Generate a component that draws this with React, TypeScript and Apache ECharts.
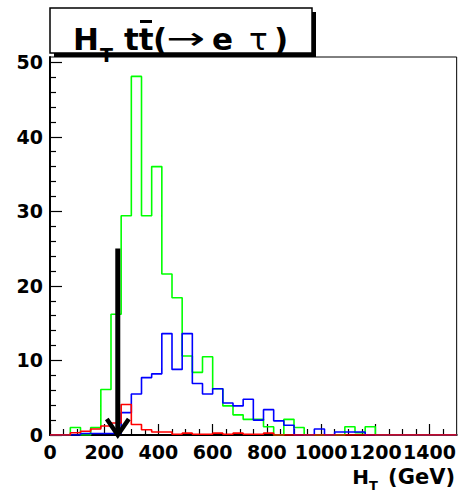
import React, { useEffect, useRef } from "react";
import * as echarts from "echarts";

// Histogram binning (GeV)
const HT_MIN = 0;
const HT_MAX = 1500;
const BIN_WIDTH = 37.5;

// Bin contents (40 bins of 37.5 GeV)
const greenCounts = [0, 0, 1.0, 0, 1.0, 6.1, 16.2, 29.4, 48.1, 29.4, 36.0, 21.6, 18.4, 10.6, 8.4, 10.5, 6.2, 3.9, 2.7, 2.1, 2.1, 1.1, 0, 2.1, 1.0, 0, 0, 0, 0, 1.1, 0.3, 1.1, 0, 0, 0, 0, 0, 0, 0, 0];
const blueCounts = [0, 0, 0, 0.2, 0.2, 0.2, 0.2, 3.0, 5.5, 7.7, 8.2, 13.6, 8.8, 13.6, 6.9, 5.5, 6.2, 4.3, 3.9, 4.8, 2.0, 3.4, 1.9, 1.3, 0, 0, 0.8, 0, 0.4, 0.4, 0.4, 0, 0, 0, 0, 0, 0, 0, 0, 0];
const redCounts = [0, 0, 0.3, 0.5, 0.8, 1.2, 1.6, 4.1, 1.4, 0.7, 0.4, 0.4, 0.1, 0.25, 0.1, 0.1, 0.25, 0.1, 0.25, 0.1, 0.1, 0.25, 0, 0, 0, 0, 0, 0, 0, 0, 0, 0, 0, 0, 0, 0, 0, 0, 0, 0];

// Axis ticks
const xMajorTicks = [0, 200, 400, 600, 800, 1000, 1200, 1400];
const xMinorStep = 50;
const yMajorTicks = [0, 10, 20, 30, 40, 50];
const yMinorStep = 2;
const Y_MAX = 50.7;

// Cut arrow
const cutArrow = [[250, 25, 0]];

const FONT = "DejaVu Sans";

function histPoints(counts: number[]) {
  const pts = counts.map((v, i) => [HT_MIN + i * BIN_WIDTH, v]);
  pts.push([HT_MIN + counts.length * BIN_WIDTH, counts[counts.length - 1]]);
  return pts;
}

function minorTicks(max: number, step: number, majors: number[]) {
  const out: number[] = [];
  for (let v = 0; v < max; v += step) {
    if (!majors.some((m) => Math.abs(m - v) < 1e-6)) out.push(v);
  }
  return out;
}

export default function App() {
  const ref = useRef<HTMLDivElement>(null);
  useEffect(() => {
    if (!ref.current) return;
    const chart = echarts.init(ref.current, undefined, { renderer: "svg" });
    const xMinor = minorTicks(HT_MAX, xMinorStep, xMajorTicks);
    const yMinor = minorTicks(Y_MAX, yMinorStep, yMajorTicks);
    const labelStyle = {
      fontFamily: FONT,
      fontWeight: "bold" as const,
      fontSize: 19,
      color: "#000",
      showMinLabel: true,
      showMaxLabel: true,
      hideOverlap: false,
      formatter: (v: number) => String(v),
    };
    const histSeries = (name: string, counts: number[], color: string) => ({
      name,
      type: "line" as const,
      step: "end" as const,
      data: histPoints(counts),
      showSymbol: false,
      symbol: "none",
      lineStyle: { color, width: 1.6 },
      xAxisIndex: 0,
      yAxisIndex: 0,
    });
    const txt = (text: string, x: number, y: number, size: number, bold: boolean, align = "left", extra: any = {}) => ({
      type: "text",
      z: 102,
      x,
      y,
      ...extra,
      style: {
        text,
        fontFamily: FONT,
        fontWeight: bold ? "bold" : "normal",
        fontSize: size,
        fill: "#000",
        align,
        verticalAlign: "middle",
      },
    });
    chart.setOption({
      animation: false,
      backgroundColor: "#fff",
      grid: {
        left: 50,
        right: 2,
        top: 57,
        bottom: 56,
        show: true,
        borderColor: "#000",
        borderWidth: 1,
        backgroundColor: "transparent",
      },
      xAxis: [
        {
          type: "value",
          min: HT_MIN,
          max: HT_MAX,
          position: "bottom",
          axisLine: { show: true, lineStyle: { color: "#000", width: 2 } },
          axisTick: { show: true, inside: true, length: 11, customValues: xMajorTicks, lineStyle: { color: "#000", width: 1.2 } },
          axisLabel: { ...labelStyle, margin: 7, customValues: xMajorTicks },
          splitLine: { show: false },
        },
        {
          type: "value",
          min: HT_MIN,
          max: HT_MAX,
          position: "bottom",
          axisLine: { show: false },
          axisTick: { show: true, inside: true, length: 6, customValues: xMinor, lineStyle: { color: "#000", width: 1.2 } },
          axisLabel: { show: false },
          splitLine: { show: false },
        },
      ],
      yAxis: [
        {
          type: "value",
          min: 0,
          max: Y_MAX,
          position: "left",
          axisLine: { show: true, lineStyle: { color: "#000", width: 2 } },
          axisTick: { show: true, inside: true, length: 12, customValues: yMajorTicks, lineStyle: { color: "#000", width: 1.2 } },
          axisLabel: { ...labelStyle, margin: 7, customValues: yMajorTicks },
          splitLine: { show: false },
        },
        {
          type: "value",
          min: 0,
          max: Y_MAX,
          position: "left",
          axisLine: { show: false },
          axisTick: { show: true, inside: true, length: 6, customValues: yMinor, lineStyle: { color: "#000", width: 1.2 } },
          axisLabel: { show: false },
          splitLine: { show: false },
        },
      ],
      series: [
        histSeries("green", greenCounts, "#00ff00"),
        histSeries("blue", blueCounts, "#0000ff"),
        histSeries("red", redCounts, "#ff0000"),
        {
          type: "custom",
          name: "cut",
          xAxisIndex: 0,
          yAxisIndex: 0,
          clip: false,
          z: 10,
          encode: { x: 0, y: [1, 2] },
          data: cutArrow,
          renderItem: (params: any, api: any) => {
            const top = api.coord([api.value(0), api.value(1)]);
            const bot = api.coord([api.value(0), api.value(2)]);
            return {
              type: "group",
              children: [
                {
                  type: "line",
                  shape: { x1: top[0], y1: top[1], x2: bot[0], y2: bot[1] - 2 },
                  style: { stroke: "#000", lineWidth: 5 },
                },
                {
                  type: "polyline",
                  shape: {
                    points: [
                      [bot[0] - 11, bot[1] - 16],
                      [bot[0], bot[1]],
                      [bot[0] + 11, bot[1] - 16],
                    ],
                  },
                  style: { stroke: "#000", lineWidth: 4.5, fill: "none" },
                },
              ],
            };
          },
        },
      ],
      graphic: [
        // title box with shadow
        { type: "rect", z: 100, shape: { x: 54, y: 12, width: 262, height: 45 }, style: { fill: "#000" } },
        { type: "rect", z: 101, shape: { x: 50, y: 8, width: 262, height: 45 }, style: { fill: "#fff", stroke: "#000", lineWidth: 1.5 } },
        txt("H", 73, 38.5, 31, true),
        txt("T", 100, 55, 19, true),
        txt("tt", 124, 38.5, 31, true),
        { type: "line", z: 102, shape: { x1: 140, y1: 21.5, x2: 152, y2: 21.5 }, style: { stroke: "#000", lineWidth: 3 } },
        txt("(", 153, 38.5, 31, true),
        txt("→", 166, 38.5, 31, false, "left", { scaleX: 1.5 }),
        txt("e", 212, 38.5, 31, true),
        txt("τ", 249, 38.5, 31, false),
        txt(")", 274, 38.5, 31, true),
        // axis title
        txt("(GeV)", 455, 477, 21, true, "right"),
        txt("T", 369, 485, 13, true, "left"),
        txt("H", 369, 477, 20, true, "right"),
      ],
    });
    return () => chart.dispose();
  }, []);
  return (
    <div
      ref={ref}
      style={{ position: "fixed", left: 0, top: 0, width: 459, height: 491, background: "#fff" }}
    />
  );
}
